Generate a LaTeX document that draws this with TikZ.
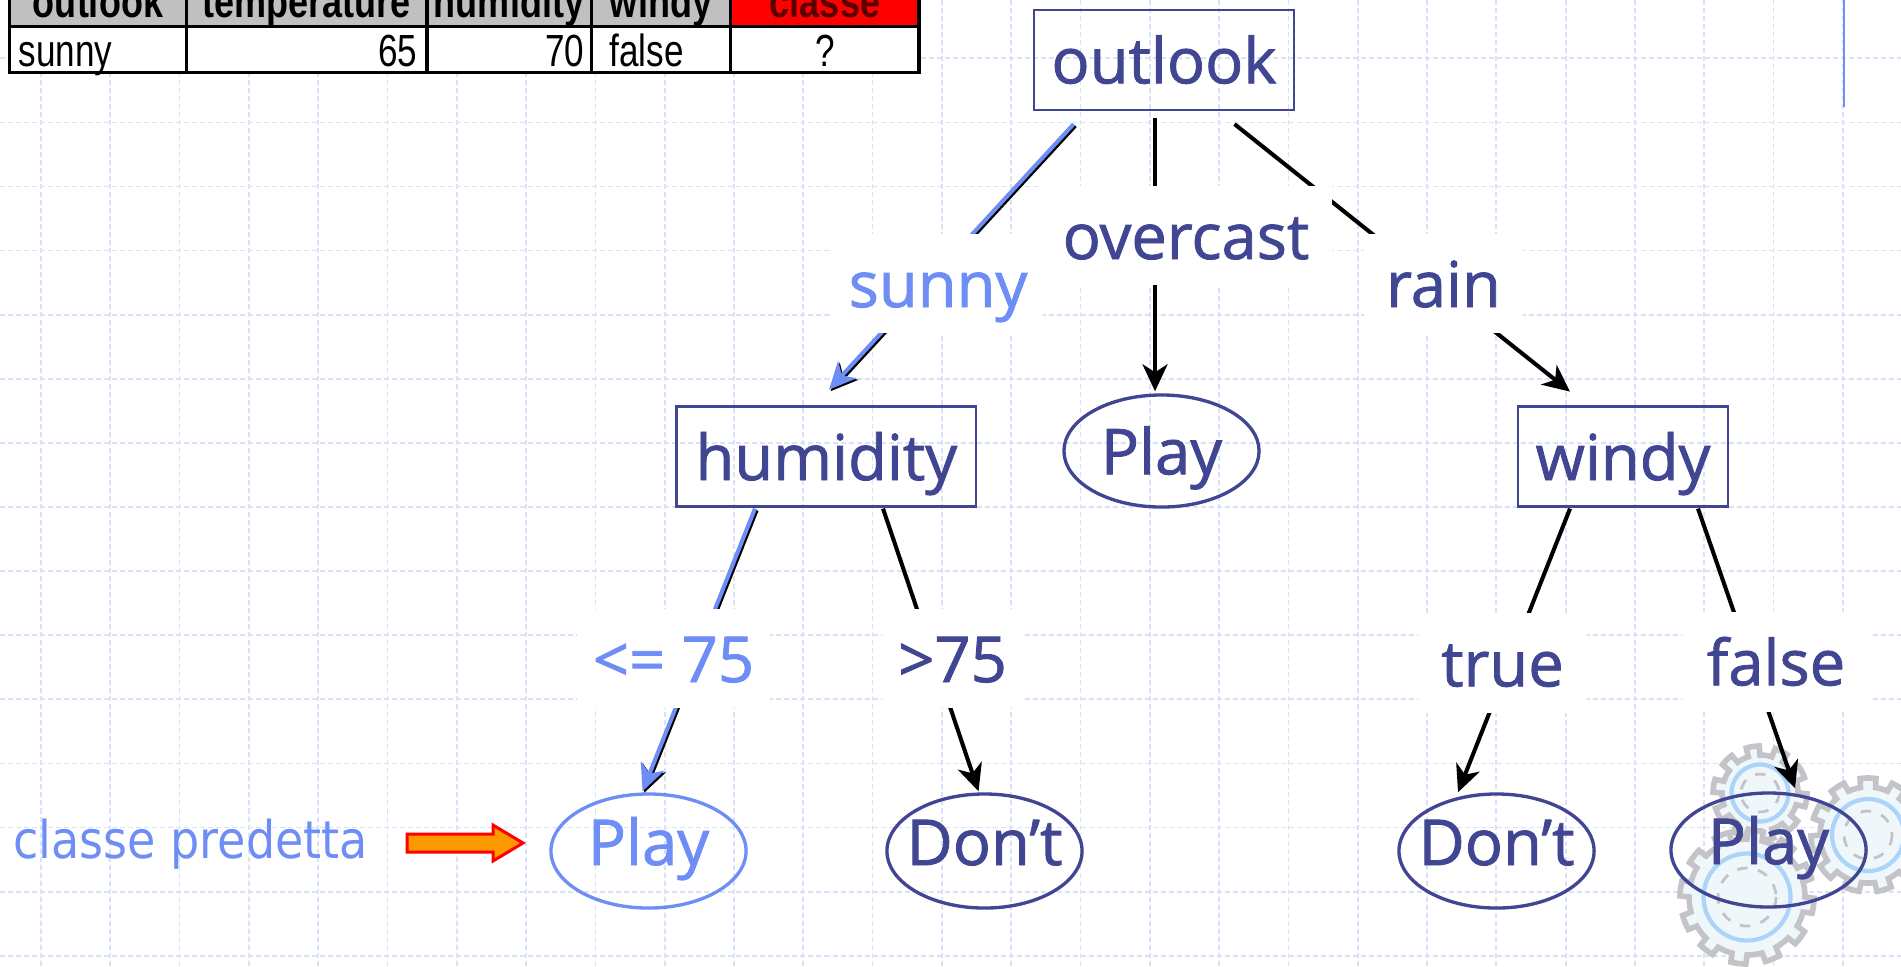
\documentclass[tikz,border=0pt]{standalone}
\usepackage{fontspec}
\setmainfont{Open Sans}[FakeBold=1.3]
\newfontfamily\tabfont{Liberation Sans}
\newfontfamily\predfont{DejaVu Sans}
\usetikzlibrary{arrows.meta,calc,shapes.geometric}
\pgfdeclarelayer{gridlayer}
\pgfdeclarelayer{edgelayer}
\pgfsetlayers{gridlayer,edgelayer,main}
\definecolor{dkblue}{RGB}{64,70,145}
\definecolor{ltblue}{RGB}{110,141,245}
\definecolor{gridc}{RGB}{218,226,250}
\definecolor{hdrgray}{RGB}{192,192,192}
\definecolor{hdrred}{RGB}{255,0,0}
\definecolor{classetxt}{RGB}{90,0,0}
\definecolor{gearg}{RGB}{196,196,200}
\definecolor{gearb}{RGB}{170,212,250}
\definecolor{gearf}{RGB}{240,247,250}
\definecolor{arrorange}{RGB}{255,153,0}
\newcommand\mygear[4]{%
  \draw[gearg, line width=1.6pt, fill=gearf]
    plot[domain=0:360, samples=361, variable=\t]
    ({#1+(#3+(sin(#4*\t)>0 ? 9 : 0))*cos(\t)}, {#2+(#3+(sin(#4*\t)>0 ? 9 : 0))*sin(\t)}) -- cycle;
  \draw[gearb, line width=1.2pt] (#1,#2) circle ({#3*0.75});
  \draw[gearg, line width=0.8pt, dashed] (#1,#2) circle ({#3*0.5});
}
\begin{document}
\begin{tikzpicture}[x=0.01cm,y=-0.01cm,
  treetext/.style={font=\fontsize{18}{22}\selectfont, text height=0.62cm, text depth=0.154cm},
  box/.style={draw=dkblue, line width=0.77pt, rectangle, inner sep=0pt, treetext, text=dkblue, minimum height=1.0cm},
  leaf/.style={draw=dkblue, line width=0.95pt, ellipse, inner sep=0pt, minimum width=1.95cm, minimum height=1.14cm},
  leaftext/.style={treetext, text height=0.44cm, text depth=0.16cm},
  lab/.style={fill=white, inner sep=0pt, minimum height=0.994cm, treetext, text=dkblue},
  edge/.style={line width=1.15pt, -{Stealth[length=0.27cm,width=0.25cm,inset=0.08cm]}},
  gridline/.style={gridc, line width=0.5pt, dash pattern=on 0.05cm off 0.03cm},
  tabline/.style={black, line width=0.9pt},
  tabhead/.style={font=\tabfont\bfseries\fontsize{12.8}{15}\selectfont, anchor=base, inner sep=0pt},
  tabcell/.style={font=\tabfont\fontsize{12.8}{15}\selectfont, inner sep=0pt},
]
\useasboundingbox (0,0) rectangle (1901,966);

% ---------- tree nodes ----------
\node[box, minimum width=2.6cm] (outlook) at (1164,60) {outlook};
\node[box, minimum width=2.99cm] (humidity) at (826.3,456.7) {humidity};
\node[box, minimum width=2.1cm] (windy) at (1623,456.7) {windy};
\node[leaf, minimum height=1.12cm, label={[treetext, text=dkblue]center:Play}] (playO) at (1161.5,451) {};
\node[leaf, draw=ltblue, label={[leaftext, text=ltblue]center:Play}] (play1) at (648.5,851) {};
\node[leaf, label={[leaftext, text=dkblue]center:Don't}] (dont1) at (984.5,851) {};
\node[leaf, label={[leaftext, text=dkblue]center:Don't}] (dont2) at (1496.5,851) {};
\node[leaf, label={[leaftext, text=dkblue]center:Play}] (play2) at (1768.5,850) {};

% ---------- edge labels ----------
\node[lab, minimum width=2.09cm, text=ltblue] (lsunny) at (938,283.7) {sunny};
\node[lab, minimum width=2.91cm] (lover) at (1186,235.7) {overcast};
\node[lab, minimum width=1.59cm] (lrain) at (1443.5,283.7) {rain};
\node[lab, minimum width=1.93cm, text=ltblue] (lle) at (673.5,658.7) {<= 75};
\node[lab, minimum width=1.41cm] (lgt) at (952.5,658.7) {>75};
\node[lab, minimum width=1.69cm] (ltrue) at (1502.5,663) {true};
\node[lab, minimum width=1.88cm] (lfalse) at (1776,662) {false};

% ---------- predicted class ----------
\node[anchor=base west, inner sep=0pt, text=ltblue, font=\predfont\fontsize{14.8}{17}\selectfont] (pred) at (12.5,858) {\scalebox{0.885}[1]{classe predetta}};
\filldraw[fill=arrorange, draw=red, line width=0.85pt] (407,834) -- (493,834) -- (493,825) -- (523,843) -- (493,861) -- (493,852) -- (407,852) -- cycle;

% ---------- background grid and table ----------
\begin{pgfonlayer}{gridlayer}
\foreach \i in {0,...,26} \draw[gridline] ({41+69.3*\i},0) -- ({41+69.3*\i},966);
\foreach \j in {0,...,14} \draw[gridline] (0,{58.3+64.1*\j}) -- (1901,{58.3+64.1*\j});
\draw[ltblue, line width=0.6pt] (1844,0) -- (1844,107);
% table
\fill[hdrgray] (9.5,-19.3) rectangle (730.5,26.7);
\fill[hdrred] (730.5,-19.3) rectangle (919,26.7);
\fill[white] (9.5,26.7) rectangle (919,72.7);
\draw[tabline] (9.5,-19.3) rectangle (919,72.7);
\draw[tabline] (9.5,26.7) -- (919,26.7);
\foreach \cx in {186.5,427,591.5,730.5} \draw[tabline] (\cx,-19.3) -- (\cx,72.7);
\node[tabhead] (h1) at (98,17) {\scalebox{0.8}[1]{outlook}};
\node[tabhead] (h2) at (306.5,17) {\scalebox{0.8}[1]{temperature}};
\node[tabhead] (h3) at (509,17) {\scalebox{0.8}[1]{humidity}};
\node[tabhead] (h4) at (661,17) {\scalebox{0.8}[1]{windy}};
\node[tabhead, text=classetxt] (h5) at (825,17) {\scalebox{0.8}[1]{classe}};
\node[tabcell, anchor=base west] (d1) at (18,66.7) {\scalebox{0.78}[1]{sunny}};
\node[tabcell, anchor=base east] (d2) at (418,66.7) {\scalebox{0.78}[1]{65}};
\node[tabcell, anchor=base east] (d3) at (585,66.7) {\scalebox{0.78}[1]{70}};
\node[tabcell, anchor=base west] (d4) at (609,66.7) {\scalebox{0.78}[1]{false}};
\node[tabcell, anchor=base] (d5) at (825,66.7) {\scalebox{0.78}[1]{?}};
\end{pgfonlayer}

% ---------- gears and connectors ----------
\begin{pgfonlayer}{edgelayer}
\mygear{1760}{793}{38}{10}
\mygear{1868}{835}{48}{11}
\mygear{1747}{897}{58}{12}
% sunny (blue, with shadow)
\draw[edge, black, transform canvas={shift={(1.6,1.6)}}] ($(outlook.south)+(-90.4,12.7)$) -- ($(humidity.north)+(2.7,-15.7)$);
\draw[edge, ltblue] ($(outlook.south)+(-90.4,12.7)$) -- ($(humidity.north)+(2.7,-15.7)$);
% overcast
\draw[edge] ($(outlook.south)+(-9,7)$) -- ($(playO.north)+(-6.5,-2)$);
% rain
\draw[edge] ($(outlook.south)+(70.5,12.7)$) -- ($(windy.north)+(-53,-13.7)$);
% <= 75 (blue, with shadow)
\draw[edge, black, transform canvas={shift={(1.6,1.6)}}] ($(humidity.south)+(-71.3,0.5)$) -- ($(play1.north)+(-6,-1)$);
\draw[edge, ltblue] ($(humidity.south)+(-71.3,0.5)$) -- ($(play1.north)+(-6,-1)$);
% > 75
\draw[edge] ($(humidity.south)+(56.7,0.5)$) -- ($(dont1.north)+(-6,-1)$);
% true
\draw[edge] ($(windy.south)+(-53,0.5)$) -- ($(dont2.north)+(-38.5,0)$);
% false
\draw[edge] ($(windy.south)+(75,0.5)$) -- ($(play2.north)+(26.5,-3)$);
\end{pgfonlayer}
\end{tikzpicture}
\end{document}
